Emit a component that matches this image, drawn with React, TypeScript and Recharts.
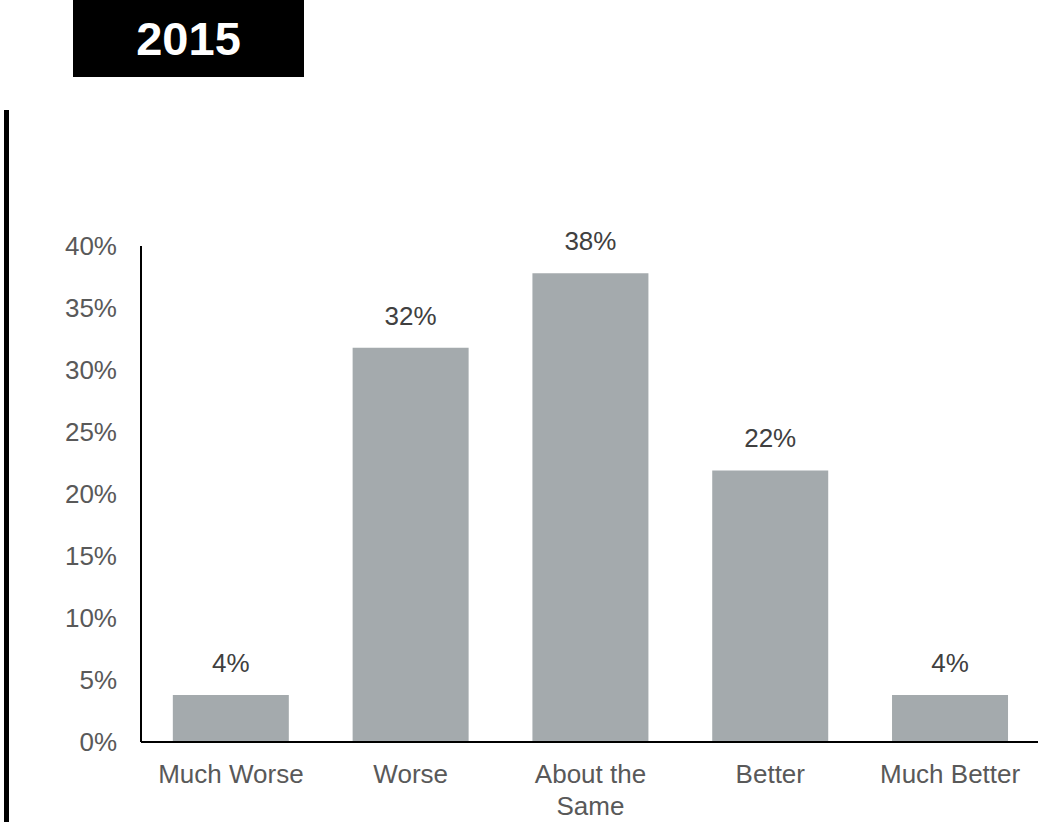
import React from 'react'
import { BarChart, Bar, XAxis, YAxis, LabelList } from 'recharts'

const categories = ['Much Worse', 'Worse', 'About the Same', 'Better', 'Much Better']
const shares = [3.8, 31.8, 37.8, 21.9, 3.8]
const yTicks = [0, 5, 10, 15, 20, 25, 30, 35, 40]

const FONT = '"Liberation Sans", Arial, sans-serif'
const MAX_CHARS = 11

const data = categories.map((name, i) => ({ name, value: shares[i] }))

// simple word wrap, long category names go on two lines
function wrapLabel(label: string) {
  const lines: string[] = []
  let current = ''
  for (const word of label.split(' ')) {
    const next = current ? `${current} ${word}` : word
    if (next.length > MAX_CHARS && current) {
      lines.push(current)
      current = word
    } else {
      current = next
    }
  }
  if (current) lines.push(current)
  return lines
}

function CategoryTick(props: any) {
  const { x, y, payload } = props
  const lines = wrapLabel(String(payload.value))
  return (
    <text x={x} y={y} textAnchor="middle" fill="#595959" fontSize={26} fontFamily={FONT}>
      {lines.map((line, i) => (
        <tspan key={i} x={x} dy={i === 0 ? '0.71em' : 32}>
          {line}
        </tspan>
      ))}
    </text>
  )
}

export default function App() {
  return (
    <div style={{ position: 'absolute', left: 0, top: 0, width: 1038, height: 822, overflow: 'hidden', background: '#fff' }}>
      <div
        style={{
          position: 'absolute', left: 73, top: 0, width: 231, height: 77, background: '#000',
          color: '#fff', fontFamily: FONT, fontWeight: 'bold', fontSize: 47,
          display: 'flex', alignItems: 'center', justifyContent: 'center',
        }}
      >
        2015
      </div>
      <div style={{ position: 'absolute', left: 4, top: 110, width: 5, height: 712, background: '#000' }} />
      <BarChart
        width={1040}
        height={822}
        data={data}
        margin={{ top: 246, right: 0, bottom: 0, left: 0 }}
        barCategoryGap="17.7%"
      >
        <XAxis
          dataKey="name"
          height={80}
          axisLine={{ stroke: '#000', strokeWidth: 2 }}
          tickLine={false}
          tickSize={0}
          tickMargin={23}
          interval={0}
          tick={<CategoryTick />}
        />
        <YAxis
          width={141}
          domain={[0, 40]}
          ticks={yTicks}
          interval={0}
          axisLine={{ stroke: '#000', strokeWidth: 2 }}
          tickLine={false}
          tickSize={0}
          tickMargin={24}
          tickFormatter={(v: number) => `${v}%`}
          tick={{ fill: '#595959', fontSize: 26, fontFamily: FONT }}
        />
        <Bar dataKey="value" fill="#A4AAAD" isAnimationActive={false}>
          <LabelList
            dataKey="value"
            position="top"
            offset={23}
            formatter={(v: any) => `${Math.round(Number(v))}%`}
            fill="#404040"
            fontSize={26}
            fontFamily={FONT}
          />
        </Bar>
      </BarChart>
    </div>
  )
}
